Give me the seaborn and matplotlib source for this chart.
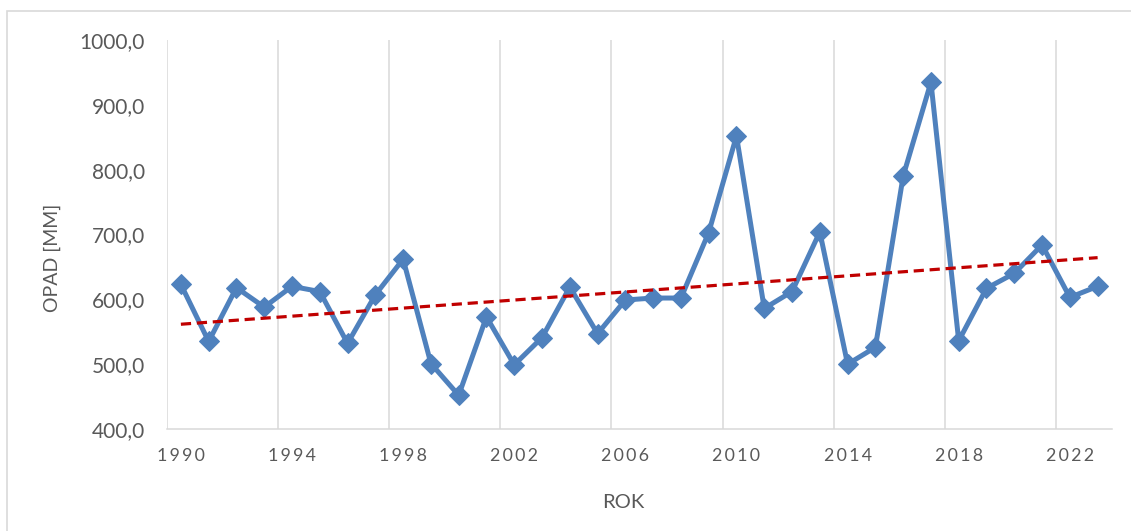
import numpy as np
import pandas as pd
import matplotlib
matplotlib.use("Agg")
import matplotlib.pyplot as plt
import seaborn as sns
from matplotlib.patches import Rectangle

# dane: roczne opady
lata = list(range(1990, 2024))
opad = [623, 535, 618, 588, 620, 612, 532, 607, 662, 501,
        452, 573, 499, 541, 619, 547, 599, 602, 602, 703,
        852, 586, 612, 704, 500, 526, 790, 935, 536, 617,
        640, 684, 603, 620]
etykiety_lat = [str(r) for r in lata[::4]]

df = pd.DataFrame({"rok": lata, "opad": opad})
df["idx"] = np.arange(len(df))

sns.set_style("white")
plt.rcParams["font.family"] = ["Lato", "DejaVu Sans"]

szary = "#595959"
fig = plt.figure(figsize=(11.31, 5.31), dpi=100)
ax = fig.add_axes([167 / 1131, 1 - 429 / 531, 944.5 / 1131, 389 / 531])

# ramka obszaru wykresu
fig.patches.append(Rectangle((7 / 1131, -0.1), 1.2, 1 - 11 / 531 + 0.1,
                             transform=fig.transFigure, fill=False,
                             edgecolor="#D9D9D9", linewidth=1.2))

sns.lineplot(data=df, x="idx", y="opad", ax=ax, color="#4F81BD", linewidth=3.6,
             marker="D", markersize=10, markeredgecolor="#4F81BD", zorder=3)
sns.regplot(data=df, x="idx", y="opad", ax=ax, scatter=False, ci=None, truncate=True,
            line_kws=dict(color="#C00000", linewidth=2.3, dashes=(3.2, 1.8), zorder=4))

ax.set_xlim(-0.5, len(lata) - 0.5)
ax.set_ylim(400, 1000)
ax.set_yticks(np.arange(400, 1001, 100))
ax.set_yticklabels([f"{v:.1f}".replace(".", ",") for v in np.arange(400, 1001, 100)])
ax.set_xticks(df["idx"].values[::4])
ax.set_xticklabels(["\u2009".join(s) for s in etykiety_lat])
ax.set_xticks(np.arange(-0.5, len(lata) - 1, 4), minor=True)
ax.grid(False)
ax.grid(True, which="minor", axis="x", color="#D9D9D9", linewidth=1.1)
ax.tick_params(axis="x", which="both", length=0, pad=14, labelsize=12.8, colors=szary)
ax.tick_params(axis="y", length=0, pad=16, labelsize=15, colors=szary)

for s in ["top", "right", "left"]:
    ax.spines[s].set_visible(False)
ax.spines["bottom"].set_color("#D9D9D9")
ax.spines["bottom"].set_linewidth(1.1)

ax.set_xlabel("")
ax.set_ylabel("")
fig.text(52 / 1131, 1 - 258 / 531, "OPAD [MM]", rotation=90, ha="center", va="center",
         fontsize=14, color=szary)
fig.text(623 / 1131, 1 - 503 / 531, "ROK", ha="center", va="center",
         fontsize=14.5, color=szary)

plt.savefig("out.png", dpi=100)
